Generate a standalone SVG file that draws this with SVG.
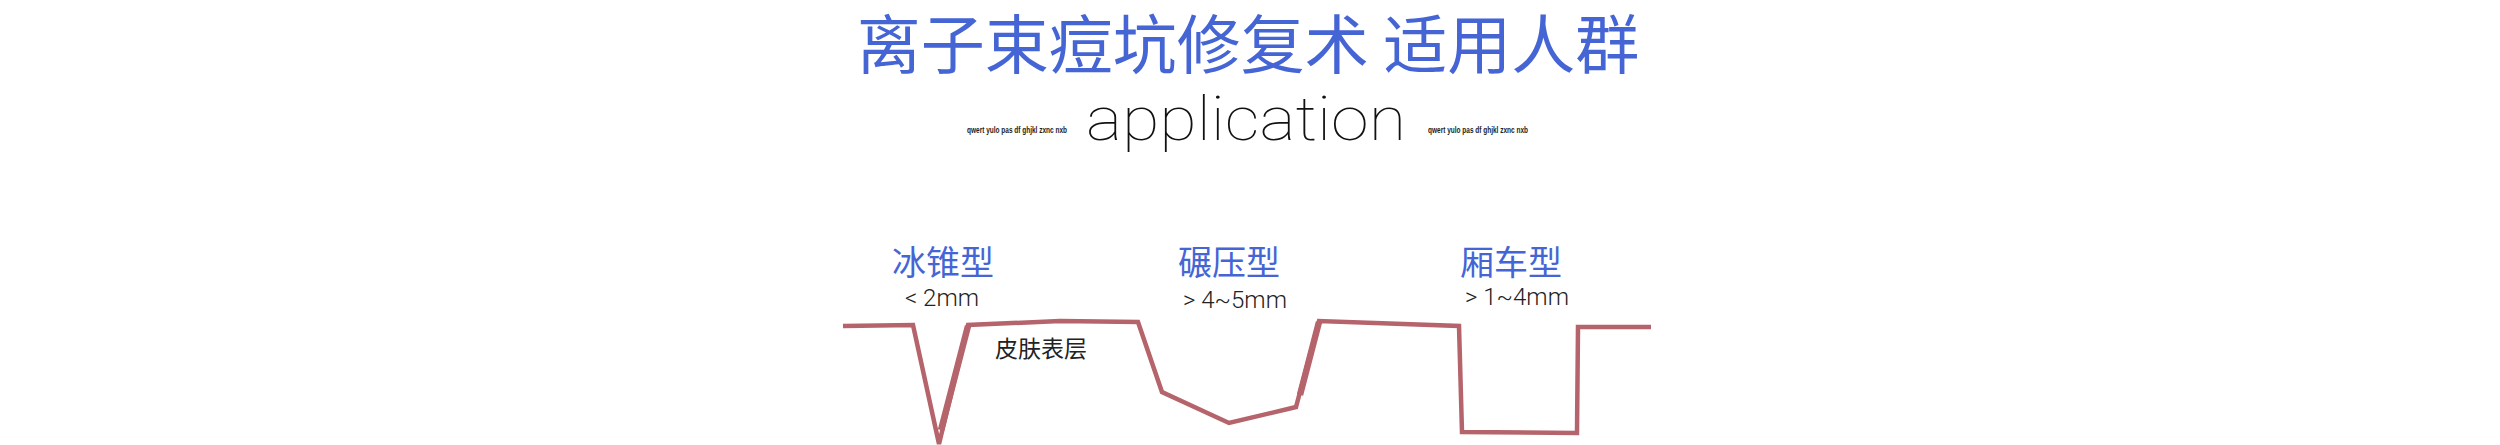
<svg xmlns="http://www.w3.org/2000/svg" width="2500" height="445" viewBox="0 0 2500 445">
  <style>
    .title { font-family: "Noto Sans CJK SC", "Noto Sans", sans-serif; fill: #4565D5; }
    .type { font-family: "Noto Sans CJK SC", "Noto Sans", sans-serif; font-size: 34px; fill: #4565D5; }
    .size { font-family: Roboto, "Liberation Sans", Arial, sans-serif; font-weight: 300; font-size: 24px; fill: #222222; }
    .small { font-family: "Liberation Sans", Arial, sans-serif; font-weight: bold; font-size: 8.5px; fill: #222222; }
    .sub { font-family: Roboto, Inter, Lato, sans-serif; font-weight: 100; font-size: 62px; fill: #111111; }
    .skin { font-family: "Noto Sans CJK SC", "Noto Sans", sans-serif; font-size: 23px; fill: #222222; }
    .profile { fill: none; stroke: #B5646B; stroke-width: 4.5; stroke-linejoin: miter; stroke-linecap: butt; }
    .thick { fill: none; stroke: #B5646B; stroke-width: 6.5; stroke-linecap: butt; }
  </style>
  <rect width="2500" height="445" fill="#FFFFFF"/>
  <g id="title">
    <text class="title" x="1248" y="68" font-size="64" text-anchor="middle">离子束痘坑修复术 适用人群</text>
  </g>
  <g id="subtitle">
    <text class="small" x="967" y="133" textLength="100" lengthAdjust="spacingAndGlyphs">qwert yulo pas df ghjkl zxnc nxb</text>
    <text class="sub" x="1086" y="140" textLength="320" lengthAdjust="spacingAndGlyphs">application</text>
    <text class="small" x="1428" y="133" textLength="100" lengthAdjust="spacingAndGlyphs">qwert yulo pas df ghjkl zxnc nxb</text>
  </g>
  <g id="type-ice-pick">
    <text class="type" x="892" y="274.5">冰锥型</text>
    <text class="size" x="905" y="306">&lt; 2mm</text>
  </g>
  <g id="type-rolling">
    <text class="type" x="1178" y="274.5">碾压型</text>
    <text class="size" x="1183" y="308">&gt; 4~5mm</text>
  </g>
  <g id="type-boxcar">
    <text class="type" x="1460" y="274.5">厢车型</text>
    <text class="size" x="1465" y="305">&gt; 1~4mm</text>
  </g>
  <g id="skin-label">
    <text class="skin" x="995" y="356.5">皮肤表层</text>
  </g>
  <g id="connectors">
    <polyline class="profile" points="843,326 913,325 939,444 968,325 1060,321 1138,322 1162,392 1229,423 1296,407 1319,321 1459,326 1462,432 1577,433 1578,327 1651,327"/>
    <path class="thick" d="M941,430 L968,326 M1300,395 L1319,322"/>
  </g>
</svg>
